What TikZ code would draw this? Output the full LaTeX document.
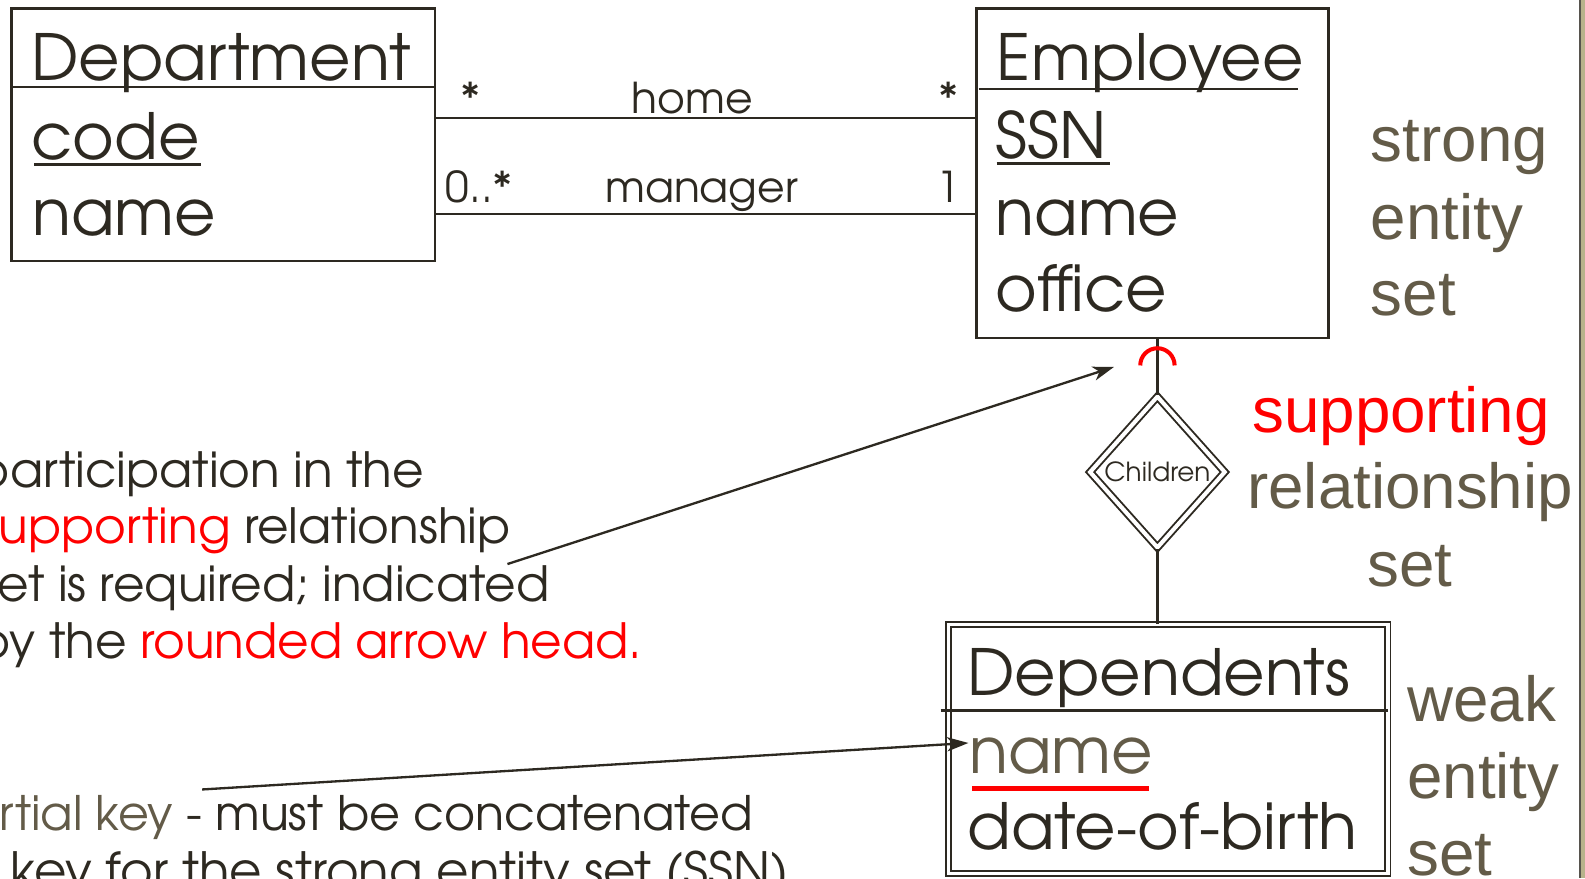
\documentclass[tikz,border=0pt]{standalone}
\usepackage{fontspec}
\setmainfont{TeX Gyre Adventor}
\newfontfamily\arialfont{Liberation Sans}
\usetikzlibrary{shapes.geometric,arrows.meta,calc}

\definecolor{ink}{RGB}{45,41,33}
\definecolor{olive}{RGB}{99,91,72}
\definecolor{redhi}{RGB}{255,0,0}
\definecolor{khaki}{RGB}{184,179,140}

\tikzset{
  box/.style={draw=ink, line width=2.5pt, inner sep=0pt},
  attr/.style={anchor=base west, inner sep=0pt, text=ink, font=\fontsize{63}{76}\selectfont},
  role/.style={anchor=base, inner sep=0pt, text=ink, font=\fontsize{42}{50}\selectfont},
  rolew/.style={anchor=base west, inner sep=0pt, text=ink, font=\fontsize{42}{50}\selectfont},
  note/.style={anchor=base west, inner sep=0pt, text=ink, font=\fontsize{48}{57}\selectfont},
  tag/.style={anchor=base west, inner sep=0pt, text=olive,
              font=\arialfont\fontsize{63}{76}\selectfont},
  link/.style={draw=ink, line width=2.3pt},
  keyline/.style={draw=ink, line width=2.8pt},
  pointer/.style={draw=ink, line width=2.3pt,
                  -{Stealth[length=21pt, width=14pt, inset=6pt]}},
}

\begin{document}
\begin{tikzpicture}[x=1pt, y=-1pt]
  \useasboundingbox (0,0) rectangle (1568,869);
  \clip (0,0) rectangle (1568,869);
  \fill[white] (0,0) rectangle (1568,869);

  % right-hand frame strip
  \fill[khaki] (1563,0) rectangle (1568,869);
  \draw[ink!80, line width=1.5pt] (1563,0) -- (1563,869);

  % ---------------- Department ----------------
  \node[box, anchor=north west, minimum width=419pt, minimum height=250pt] (dept) at (10,7) {};
  \draw[link] ($(dept.north west)+(0,79)$) -- ($(dept.north east)+(0,79)$);
  \node[attr] (depthead) at (31,80) {Department};
  \node[attr] (dcode) at (31,158) {code};
  \draw[keyline] ($(dcode.base west)+(3,5)$) -- ($(dcode.base east)+(1,5)$);
  \node[attr] (dname) at (32,233) {name};

  % ---------------- Employee ----------------
  \node[box, anchor=north west, minimum width=348pt, minimum height=326pt] (emp) at (965,7) {};
  \node[attr] (emphead) at (986,80) {Employee};
  \draw[link] ($(emp.north west)+(3,81)$) -- ($(emp.north west)+(319,81)$);
  \node[attr] (essn) at (985,157) {SSN};
  \draw[keyline] ($(essn.base west)+(1,5)$) -- ($(essn.base east)+(3,5)$);
  \node[attr] (ename) at (985,233) {name};
  \node[attr] (eoffice) at (985,308) {office};

  % ---------------- associations ----------------
  \coordinate (homeY) at (0,117);
  \coordinate (mgrY) at (0,212);
  \draw[link] (dept.east |- homeY) -- (emp.west |- homeY);
  \draw[link] (dept.east |- mgrY) -- (emp.west |- mgrY);
  \node[role] (hstarL) at (466,112) {*};
  \node[role] (hlabel) at (685,112) {home};
  \node[role] (hstarR) at (938,112) {*};
  \node[rolew] (mmultL) at (441,200) {0..*};
  \node[role] (mlabel) at (694,200) {manager};
  \node[role] (mmultR) at (938,200) {1};

  % ---------------- supporting relationship ----------------
  \node[diamond, draw=ink, double=white, double distance=4pt, line width=1.9pt,
        minimum width=134pt, minimum height=150pt, aspect=0.9, inner sep=0pt,
        text=ink, font=\fontsize{26}{30}\selectfont] (kids) at (1145,467) {Children};
  \draw[link] (kids.north) -- (kids.north |- emp.south);
  \draw[redhi, line width=4pt]
    ($(kids.north |- emp.south)+(-17,26)$) arc[start angle=180, end angle=360, radius=17];

  % ---------------- Dependents (weak entity) ----------------
  \node[draw=ink, double=white, double distance=3.4pt, line width=1.8pt, inner sep=0pt,
        anchor=north west, minimum width=434.5pt, minimum height=246.5pt] (deps) at (937.5,617) {};
  \draw[link] (kids.south) -- (kids.south |- deps.north);
  \draw[link] ($(deps.north west)+(-7,86)$) -- ($(deps.north east)+(-1,86)$);
  \node[attr] (dephead) at (957,688) {Dependents};
  \node[attr, text=olive] (depname) at (959,765) {name};
  \draw[redhi, line width=4.5pt] ($(depname.base west)+(3,15)$) -- ($(depname.base east)+(-4,15)$);
  \node[attr] (depdob) at (957,840) {date-of-birth};

  % ---------------- side labels ----------------
  \node[tag] (lstrong1) at (1356,160) {strong};
  \node[tag] (lstrong2) at (1356,237) {entity};
  \node[tag] (lstrong3) at (1356,312) {set};
  \node[tag, anchor=base, text=redhi] (lsupport1) at (1386,428) {supporting};
  \node[tag, anchor=base] (lsupport2) at (1395,503) {relationship};
  \node[tag, anchor=base] (lsupport3) at (1395,580) {set};
  \node[tag] (lweak1) at (1392,714) {weak};
  \node[tag] (lweak2) at (1392,790) {entity};
  \node[tag] (lweak3) at (1392,866) {set};

  % ---------------- notes ----------------
  \node[note] (n1) at (-23,482) {participation in the};
  \node[note] (n2) at (-20,538) {\textcolor{redhi}{supporting} relationship};
  \node[note] (n3) at (-21,595) {set is required; indicated};
  \node[note] (n4) at (-22,651) {by the \textcolor{redhi}{rounded arrow head.}};
  \node[note, font=\fontsize{47}{57}\selectfont] (n5) at (-65,822)
       {\textcolor{olive}{partial key} - must be concatenated};
  \node[note, font=\fontsize{49.4}{57}\selectfont] (n6) at (-106,879)
       {own key for the strong entity set (SSN)};

  \coordinate (noteA) at (502,558);
  \coordinate (tipA) at (1102,363);
  \draw[pointer] (noteA) -- (tipA);
  \coordinate (noteB) at (200,781);
  \coordinate (tipB) at (958,735);
  \draw[pointer] (noteB) -- (tipB);
\end{tikzpicture}
\end{document}
